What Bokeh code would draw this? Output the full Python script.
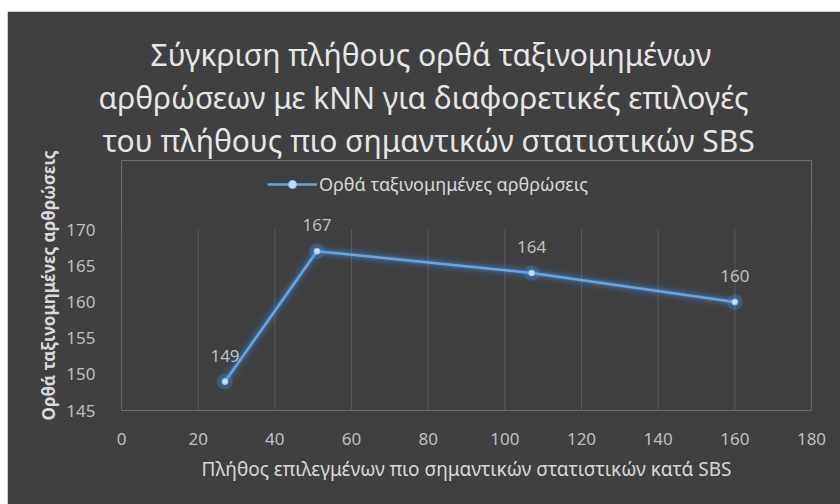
from bokeh.plotting import figure
from bokeh.models import Range1d, LabelSet, ColumnDataSource, Legend, LegendItem, Title
from bokeh.embed import file_html
from bokeh.resources import INLINE
from bokeh.core.properties import value

# ---- data ----
title_lines = [
    "Σύγκριση πλήθους ορθά ταξινομημένων",
    "αρθρώσεων με kNN για διαφορετικές επιλογές",
    "του πλήθους πιο σημαντικών στατιστικών SBS",
]
title_offsets = [29, -23, -19]      # left offsets of each title line from the frame edge (px)
series_name = "Ορθά ταξινομημένες αρθρώσεις"
x_title = "Πλήθος επιλεγμένων πιο σημαντικών στατιστικών κατά SBS"
y_title = "Ορθά ταξινομημένες αρθρώσεις"
n_features = [27, 51, 107, 160]
correct = [149, 167, 164, 160]
x_ticks = [0, 20, 40, 60, 80, 100, 120, 140, 160, 180]
y_ticks = [145, 150, 155, 160, 165, 170]

# ---- style ----
BG = "#404040"
TXT = "#d9d9d9"
TICK = "#bfbfbf"
FONT = "Noto Sans"

X0, X1, Y0, Y1 = x_ticks[0], x_ticks[-1], y_ticks[0], y_ticks[-1]
FL, FR, FB = 121, 811, 410          # frame edges (page px)
GRID_TOP = 229                      # page px where the value range ends
FT = 160                            # frame top, leaves room for the legend
LEG_TOP = 176                       # legend top (page px)
ppu = (FB - GRID_TOP) / (Y1 - Y0)
Y_TOP = Y1 + (GRID_TOP - FT) / ppu

p = figure(width=833, height=493, output_backend="svg", toolbar_location=None,
           x_range=Range1d(X0, X1), y_range=Range1d(Y0, Y_TOP),
           background_fill_color=BG, border_fill_color=BG,
           min_border_left=FL - 7, min_border_right=840 - FR,
           min_border_top=FT - 11, min_border_bottom=504 - FB)
p.margin = (11, 0, 0, 7)
p.outline_line_color = None
p.grid.visible = False

for ax in (p.xaxis[0], p.yaxis[0]):
    ax.axis_line_color = None
    ax.major_tick_line_color = None
    ax.minor_tick_line_color = None
    ax.major_label_text_color = TICK
    ax.major_label_text_font = FONT
    ax.major_label_text_font_size = "17px"
    ax.axis_label_text_color = TXT
    ax.axis_label_text_font = FONT
p.xaxis.ticker = x_ticks
p.yaxis.ticker = y_ticks
p.xaxis.major_label_standoff = 16
p.yaxis.major_label_standoff = 20
p.xaxis.axis_label = x_title
p.xaxis.axis_label_text_font_style = "normal"
p.xaxis.axis_label_text_font_size = "19px"
p.xaxis.axis_label_standoff = 8
p.yaxis.axis_label = y_title
p.yaxis.axis_label_text_font_style = "bold"
p.yaxis.axis_label_text_font_size = "17px"
p.yaxis.axis_label_standoff = 3

# vertical gridlines at the x ticks, spanning the value range only
p.multi_line(xs=[[t, t] for t in x_ticks], ys=[[Y0, Y1] for _ in x_ticks],
             line_color="#5c5c5c", line_width=1)

src = ColumnDataSource(dict(x=n_features, y=correct, lbl=[str(v) for v in correct]))

# glow
for w, a in [(18, 0.05), (12, 0.08), (8, 0.14), (5, 0.25)]:
    p.line("x", "y", source=src, line_width=w, line_color="#3d8be0", line_alpha=a,
           line_join="round", line_cap="round")
main = p.line("x", "y", source=src, line_width=2.5, line_color="#62a6e6", line_join="round")
p.scatter("x", "y", source=src, size=16, fill_color="#4a98ea", fill_alpha=0.25, line_color=None)
mk = p.scatter("x", "y", source=src, size=6, fill_color="#c4defa", line_color="#8cc0f0", line_width=1)

labels = LabelSet(x="x", y="y", text="lbl", source=src, y_offset=26,
                  text_align="center", text_baseline="middle",
                  text_font=value(FONT), text_font_size="17px", text_color=TICK)
p.add_layout(labels)

legend = Legend(items=[LegendItem(label=series_name, renderers=[main, mk])],
                location=(146, (FB - FT) - (LEG_TOP - FT) - 20), orientation="horizontal",
                background_fill_alpha=0, border_line_alpha=0,
                label_text_color=TXT, label_text_font=FONT, label_text_font_size="18px",
                glyph_width=50, glyph_height=20, label_standoff=2, padding=0, margin=0)
p.add_layout(legend)

# title lines: the one added last sits on top
for line, off in zip(reversed(title_lines), reversed(title_offsets)):
    p.add_layout(Title(text=line, align="left", offset=off, standoff=0,
                       text_line_height=0.85,
                       text_font=FONT, text_font_size="30px", text_font_style="normal",
                       text_color="#e6e6e6"), "above")

open("out.html", "w").write(file_html(p, INLINE))
